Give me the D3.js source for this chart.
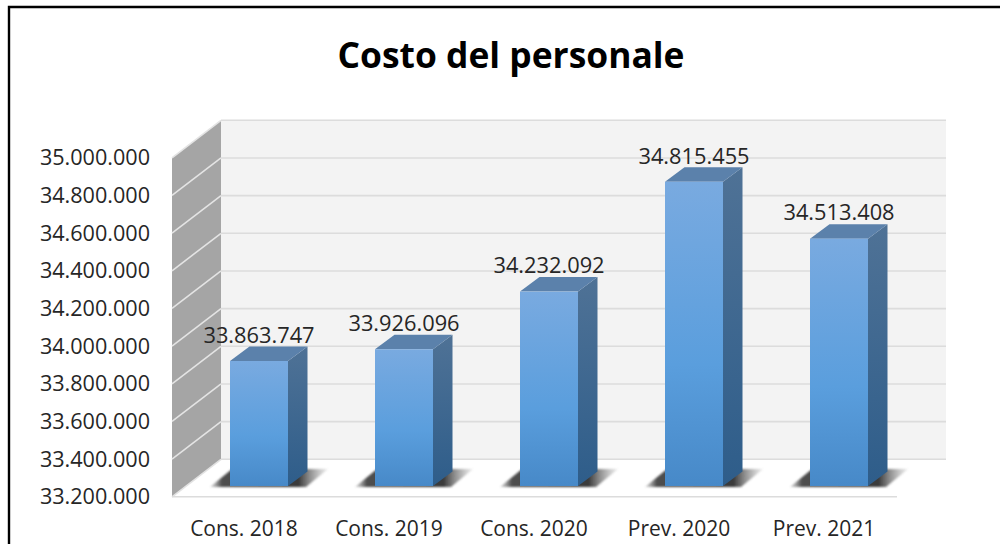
<!DOCTYPE html>
<html><head><meta charset="utf-8">
<script src="https://cdn.jsdelivr.net/npm/d3@7"></script>
<style>html,body{margin:0;padding:0;background:#fff;overflow:hidden}svg{display:block}</style>
</head><body><svg id="c" width="1000" height="544"></svg>
<script>
const titleText = "Costo del personale";
const categories = ["Cons. 2018","Cons. 2019","Cons. 2020","Prev. 2020","Prev. 2021"];
const values = [33863747,33926096,34232092,34815455,34513408];
const tickValues = [33200000,33400000,33600000,33800000,34000000,34200000,34400000,34600000,34800000,35000000];

const svg = d3.select("#c");
const font = "'Open Sans', sans-serif";
const dx = 49, dy = -37.5;          // wall depth
const bdx = 14.5, bdy = -10.8;      // bar position inside the depth
const sdx = 19.5, sdy = -14.5;      // bar's own depth
const barW = 58;

const y = d3.scaleLinear().domain([33200000,35000000]).range([496.8,157.8]);
const x = d3.scaleBand().domain(categories).range([172,897]);
const fmt = v => d3.format(",")(v).replace(/,/g,".");

const defs = svg.append("defs");
function grad(id, stops, x2, y2){
  const g = defs.append("linearGradient").attr("id",id).attr("x1",0).attr("y1",0).attr("x2",x2).attr("y2",y2);
  stops.forEach(s=>g.append("stop").attr("offset",s[0]).attr("stop-color",s[1]).attr("stop-opacity",s[2]===undefined?1:s[2]));
}
grad("front",[[0,"#79aae0"],[0.6,"#5a9edd"],[1,"#4789c8"]],0,1);
grad("side",[[0,"#4f7296"],[1,"#2e5d8a"]],0,1);
grad("shadow",[[0,"#666",0.2],[0.1,"#444",0.95],[0.75,"#3a3a3a",1],[1,"#888",0.15]],1,0);
defs.append("filter").attr("id","blur").append("feGaussianBlur").attr("stdDeviation",1.2);

// frame
svg.append("path").attr("d","M9,544V7H1000").attr("fill","none").attr("stroke","#000").attr("stroke-width",2.4);

// title
svg.append("text").attr("x",511).attr("y",68).attr("text-anchor","middle")
  .attr("font-family",font).attr("font-weight",700).attr("font-size",35.4).attr("fill","#000").text(titleText);

const y0 = y.range()[0], y1 = y.range()[1], xL = x.range()[0], xR = x.range()[1];
// back wall
svg.append("rect").attr("x",xL+dx).attr("y",y1+dy).attr("width",xR-xL).attr("height",y0-y1).attr("fill","#f3f3f3");
// side wall
svg.append("path").attr("d",`M${xL},${y0}L${xL},${y1}L${xL+dx},${y1+dy}L${xL+dx},${y0+dy}Z`).attr("fill","#a5a5a5");
// gridlines
const grid = svg.append("g").attr("fill","none").attr("stroke-width",1.6);
tickValues.forEach(t=>{
  const p = y(t);
  if(t>tickValues[0]) grid.append("path").attr("stroke","#e4e4e4").attr("d",`M${xL},${p}L${xL+dx},${p+dy}`);
  grid.append("path").attr("stroke","#dcdcdc").attr("d",`M${xL+dx},${p+dy}H${xR+dx}`);
});
grid.append("path").attr("stroke","#e2e2e2").attr("d",`M${xL},${y0}L${xL+dx},${y0+dy}`);
// floor front edge
grid.append("path").attr("stroke","#dcdcdc").attr("d",`M${xL},${y0}H${xR}`);

// bars
const bars = svg.append("g").selectAll("g").data(categories.map((c,i)=>({c,v:values[i]}))).join("g");
const bl = d => x(d.c)+x.bandwidth()/2+bdx-barW/2;
const bb = y0+bdy;
bars.append("path").attr("fill","url(#shadow)").attr("filter","url(#blur)")
  .attr("d",d=>{const l=bl(d);return `M${l-20},${bb+1}L${l+2},${bb-17}H${l+barW+40}L${l+barW+18},${bb+1}Z`;});
bars.append("path").attr("fill","url(#side)")
  .attr("d",d=>{const l=bl(d)+barW,t=y(d.v)+bdy;return `M${l},${bb}V${t}L${l+sdx},${t+sdy}V${bb+sdy}Z`;});
bars.append("path").attr("fill","#5b81ab")
  .attr("d",d=>{const l=bl(d),t=y(d.v)+bdy;return `M${l},${t}L${l+sdx},${t+sdy}H${l+barW+sdx}L${l+barW},${t}Z`;});
bars.append("rect").attr("fill","url(#front)").attr("x",bl).attr("y",d=>y(d.v)+bdy).attr("width",barW).attr("height",d=>bb-(y(d.v)+bdy));
bars.append("text").attr("x",d=>bl(d)+barW/2).attr("y",d=>y(d.v)+bdy+sdy-3.7).attr("text-anchor","middle")
  .attr("font-family",font).attr("font-size",21.8).attr("fill","#262626").text(d=>fmt(d.v));

// axes
const ax = svg.append("g").attr("transform",`translate(${xL},0)`)
  .call(d3.axisLeft(y).tickValues(tickValues).tickFormat(fmt).tickSize(0).tickPadding(22));
ax.select(".domain").remove();
ax.selectAll("text").attr("font-family",font).attr("font-size",21.6).attr("fill","#262626").attr("dy","0.33em");
const bx = svg.append("g").attr("transform",`translate(-0.5,${y0})`)
  .call(d3.axisBottom(x).tickSize(0).tickPadding(24));
bx.select(".domain").remove();
bx.selectAll("text").attr("font-family",font).attr("font-size",21).attr("fill","#262626");
</script></body></html>
